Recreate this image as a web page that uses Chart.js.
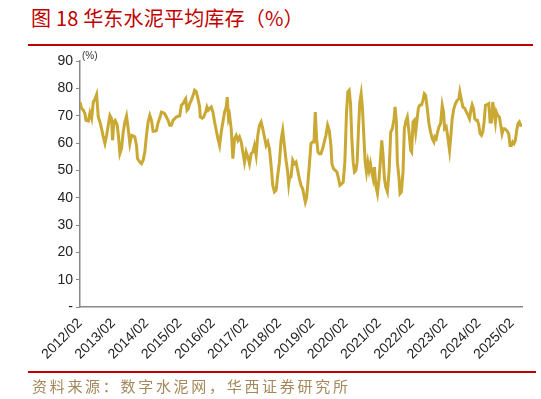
<!DOCTYPE html>
<html>
<head>
<meta charset="utf-8">
<script src="https://cdn.jsdelivr.net/npm/chart.js@4"></script>
<style>
html,body{margin:0;padding:0;background:#fff;}
#wrap{position:relative;width:541px;height:399px;overflow:hidden;}
#title{position:absolute;left:31px;top:3px;font-family:"Noto Sans CJK SC";font-size:20px;color:#C00000;letter-spacing:0.2px;white-space:nowrap;}
.redline{position:absolute;height:2px;background:#C00000;}
#src{position:absolute;left:32px;top:375px;font-family:"Noto Sans CJK SC";font-size:15px;color:#A4875A;letter-spacing:2.7px;white-space:nowrap;}
#unit{position:absolute;left:82px;top:50px;font-family:"Liberation Sans";font-size:10px;color:#333;}
canvas{position:absolute;left:0;top:0;}
</style>
</head>
<body>
<div id="wrap">
<div id="title">图 18 华东水泥平均库存（%）</div>
<div class="redline" style="left:28px;top:44px;width:505px;"></div>
<canvas id="c" width="541" height="399"></canvas>
<div id="unit">(%)</div>
<div class="redline" style="left:28px;top:371px;width:508px;"></div>
<div id="src">资料来源：数字水泥网，华西证券研究所</div>
</div>
<script>
// years elapsed since 2012/02
const yearsSince201202 = [
0,.05,.10,.15,.18,.25,.30,.35,.40,.45,.50,.55,.60,.65,.70,.75,.80,.85,.90,.95,.98,1.02,1.06,1.12,1.16,1.20,1.25,1.30,1.35,1.40,1.45,1.50,1.55,1.60,1.65,1.70,1.73,1.80,1.85,1.90,1.95,2.00,2.05,2.10,2.15,2.20,2.25,2.30,2.35,2.40,2.45,2.50,2.55,2.60,2.65,2.70,2.75,2.80,2.85,2.90,2.95,3.00,3.05,3.10,3.15,3.18,3.22,3.26,3.30,3.35,3.40,3.45,3.50,3.55,3.60,3.62,3.68,3.72,3.78,3.82,3.86,3.90,3.95,4.00,4.05,4.10,4.15,4.20,4.25,4.30,4.35,4.40,4.43,4.47,4.50,4.55,4.60,4.65,4.70,4.75,4.80,4.85,4.90,4.95,5.00,5.05,5.10,5.15,5.20,5.25,5.30,5.35,5.40,5.45,5.50,5.55,5.60,5.65,5.70,5.75,5.80,5.85,5.90,5.95,6.00,6.05,6.10,6.15,6.20,6.25,
6.28,6.30,6.35,6.40,6.45,6.50,6.55,6.60,6.65,6.70,6.75,6.78,6.82,6.86,6.90,6.95,7.00,7.04,7.08,7.12,7.16,7.20,7.25,7.30,7.35,7.40,7.45,7.50,7.55,7.58,7.63,7.68,7.73,7.78,7.82,7.88,7.92,7.97,8.02,8.06,8.10,8.14,8.18,8.22,8.26,8.30,8.34,8.38,8.42,8.46,8.50,8.54,8.58,8.62,8.66,8.70,8.74,8.78,8.82,8.86,8.90,8.95,9.00,9.05,9.08,9.12,9.16,9.20,9.25,9.30,9.35,9.40,9.45,9.48,9.52,9.55,9.60,9.63,9.67,9.72,9.76,9.80,9.85,9.90,9.95,9.98,10.02,10.06,10.10,10.14,10.18,10.22,10.28,10.32,10.36,10.40,10.45,10.50,10.55,10.60,10.65,10.68,10.72,10.76,10.80,10.85,10.90,10.94,10.97,11.02,11.06,11.12,11.16,11.20,11.25,11.30,11.35,11.40,11.43,11.47,11.52,11.58,11.63,11.68,11.72,11.76,11.80,11.84,11.88,11.92,11.96,12.00,12.04,12.08,12.12,12.16,12.20,12.25,12.30,12.34,12.38,12.42,12.46,12.50,12.53,12.57,12.62,12.66,12.70,12.74,12.78,12.84,12.90,12.94,12.98,13.02,13.06,13.10,13.14,13.18,13.22,13.26,13.30
];
// East China average cement inventory ratio (%)
const inventoryPct = [
75,72.6,72,70.7,68.3,68,71,69,75,76,77.7,69.5,67.7,65.2,62.2,59.8,62.8,66.5,70.1,68.9,61,67.7,68.3,66.5,62.2,56.1,58,64,67.7,69.9,65.2,59.8,62.8,62.6,62.2,59.1,54.3,53,52.4,53.7,56.7,62.8,67.7,70.1,68.3,64.3,64.3,64.6,67.4,69.1,71.3,71.1,70.7,69.5,68.3,66.5,66.5,68.3,68.9,69.5,69.8,69.9,73.8,74.4,75.6,76.2,72,72.6,74.4,75.6,77.4,79.3,78.7,76.2,73.2,69.5,69.1,69.5,71.3,73.2,72,72.6,73.2,71.3,67.7,64.6,61.6,59.1,64,67.7,71.3,73.2,76.8,68.9,70.1,65.2,54.3,61.6,62.8,61,62.2,60.4,56.7,53,56.7,54.9,52.4,56.1,56.7,59.1,55.5,62.8,66.5,67.7,65.2,62.2,59.1,60.4,57.9,51.8,44.5,42.1,42.7,48.2,53,61,64.6,59.1,53.7,49.4,
45.1,47,47.6,53.7,52.4,53,50,47,44.5,43.3,40.2,38.4,40.2,45.7,51.8,59.8,60.4,60.4,71.3,61.6,56.7,56.1,56.1,57.9,60.4,62.8,66.5,64.6,59.1,52.4,50.6,50,49.4,47,44.5,45.1,45.7,53,71.3,78.7,79.3,74.4,61.6,53,49.4,50,53,65.2,75,78,72.6,62.8,53,49.4,53,50,52.4,49.4,47,51.2,44.5,41.5,47,55.5,61,55.5,47,43.9,42.1,49.4,64,65.2,68.9,73.2,67.7,53,47,41.5,42.1,49.4,65.2,67.7,69.5,64,57.3,56.7,67.7,68.3,64,68.3,72.6,73.8,74,75.6,78,77.4,72.6,67.1,64,61.6,60.4,62.2,61.6,64,65.9,67.1,73.8,71.3,65.2,65.9,62.8,57.3,62.8,68.9,72.6,74.4,75.6,76.2,78.7,76.2,73.2,72.6,71.3,70.1,68.9,72,74,72.6,68.9,68.3,68.3,66.5,63.4,62.8,64,67.7,73.8,74,74.4,67.7,67.7,75,71.3,67.7,71.3,70.1,69.5,66.5,63.4,65.2,65.2,64.6,63.4,59.1,59.1,60.4,59.8,61,64.6,67.1,67.7,66.5,66.5
];
const xTickLabels = ['2012/02','2013/02','2014/02','2015/02','2016/02','2017/02','2018/02','2019/02','2020/02','2021/02','2022/02','2023/02','2024/02','2025/02'];
const yTickValues = [0,10,20,30,40,50,60,70,80,90];

const points = yearsSince201202.map((t, i) => ({x: t, y: inventoryPct[i]}));

new Chart(document.getElementById('c'), {
  type: 'line',
  data: {
    datasets: [{
      data: points,
      borderColor: '#C9A833',
      borderWidth: 3,
      pointRadius: 0,
      tension: 0,
      fill: false
    }]
  },
  options: {
    responsive: false,
    animation: false,
    events: [],
    layout: {padding: {left: 30, right: 19, top: 61, bottom: 0}},
    plugins: {legend: {display: false}, tooltip: {enabled: false}},
    scales: {
      x: {
        type: 'linear',
        min: 0,
        max: yearsSince201202[yearsSince201202.length - 1],
        afterBuildTicks: (axis) => { axis.ticks = xTickLabels.map((_, i) => ({value: i})); },
        afterFit: (s) => { s.height = 92; },
        ticks: {
          autoSkip: false,
          maxRotation: 45,
          minRotation: 45,
          padding: 8,
          color: '#222',
          font: {family: 'Liberation Sans', size: 14},
          callback: (v) => xTickLabels[Math.round(v)]
        },
        grid: {display: true, drawOnChartArea: false, drawTicks: false, color: '#888'},
        border: {display: true, color: '#888', width: 1.5}
      },
      y: {
        min: 0,
        max: 90,
        afterBuildTicks: (axis) => { axis.ticks = yTickValues.map(v => ({value: v})); },
        afterFit: (s) => { s.width = 50; },
        ticks: {
          color: '#222',
          padding: 3,
          font: {family: 'Liberation Sans', size: 14},
          callback: (v) => v === 0 ? '-' : String(v)
        },
        grid: {display: true, drawOnChartArea: false, drawTicks: true, tickLength: 4, color: '#888'},
        border: {display: true, color: '#888', width: 1.5}
      }
    }
  }
});
</script>
</body>
</html>
